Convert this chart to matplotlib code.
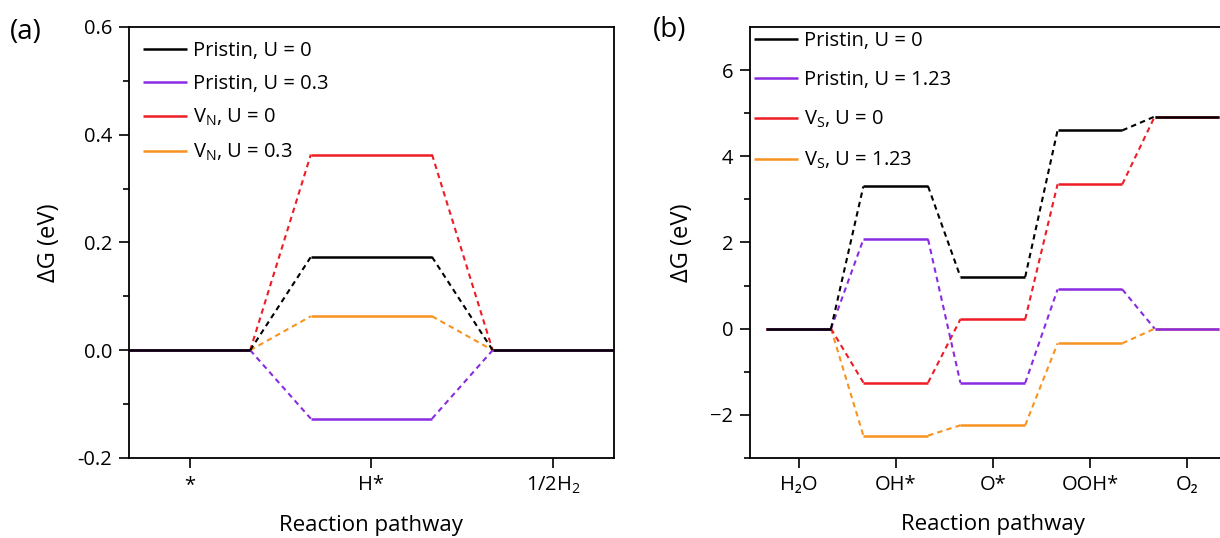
import matplotlib.pyplot as plt
import numpy as np

plt.rcParams['font.family'] = ['Open Sans', 'DejaVu Sans']
plt.rcParams['mathtext.fontset'] = 'custom'
plt.rcParams['mathtext.rm'] = 'Open Sans'
plt.rcParams['mathtext.it'] = 'Open Sans'
plt.rcParams['mathtext.default'] = 'regular'

# ---- data, panel (a): HER ----
her_steps = ['*', 'H*', '1/2H$_2$']
her_pristin_u0 = [0, 0.173, 0]
her_pristin_u03 = [0, -0.127, 0]
her_vn_u0 = [0, 0.363, 0]
her_vn_u03 = [0, 0.063, 0]

# ---- data, panel (b): OER ----
oer_steps = ['H\u2082O', 'OH*', 'O*', 'OOH*', 'O\u2082']
oer_pristin_u0 = [0, 3.30, 1.20, 4.60, 4.92]
oer_pristin_u123 = [0, 2.07, -1.26, 0.91, 0]
oer_vs_u0 = [0, -1.25, 0.22, 3.35, 4.92]
oer_vs_u123 = [0, -2.48, -2.24, -0.34, 0]

BLACK = 'black'
PURPLE = '#8a2be2'
RED = '#ee1c25'
ORANGE = '#f7931e'


def draw_path(ax, vals, color, label):
    # solid level for each step, dashed line joining neighbours
    h = 1 / 3
    for i, v in enumerate(vals):
        x = i + 1
        ax.plot([x - h, x + h], [v, v], color=color, lw=1.8, solid_capstyle='butt',
                label=label if i == 0 else None)
        if i < len(vals) - 1:
            ax.plot([x + h, x + 1 - h], [v, vals[i + 1]], color=color, lw=1.5,
                    ls=(0, (2.6, 2.0)))


def style(ax):
    ax.tick_params(axis='both', which='major', direction='out', length=7, width=1.2,
                   labelsize=14.5, top=False, right=False, pad=5)
    ax.tick_params(axis='y', which='minor', direction='out', length=4, width=1.2, right=False)
    for s in ax.spines.values():
        s.set_linewidth(1.3)
    ax.set_xlabel('Reaction pathway', fontsize=16, labelpad=14)
    ax.set_ylabel('\u0394G (eV)', fontsize=17, labelpad=12)


fig = plt.figure(figsize=(12.2, 5.38), dpi=100)

# (a)
ax1 = fig.add_axes([0.1057, 0.1487, 0.3975, 0.8013])
draw_path(ax1, her_vn_u03, ORANGE, 'V$_N$, U = 0.3')
draw_path(ax1, her_vn_u0, RED, 'V$_N$, U = 0')
draw_path(ax1, her_pristin_u03, PURPLE, 'Pristin, U = 0.3')
draw_path(ax1, her_pristin_u0, BLACK, 'Pristin, U = 0')
ax1.set_xlim(1 - 1 / 3, 3 + 1 / 3)
ax1.set_ylim(-0.2, 0.6)
ax1.set_xticks([1, 2, 3])
ax1.set_xticklabels(her_steps)
ax1.set_yticks([-0.2, 0.0, 0.2, 0.4, 0.6])
ax1.set_yticklabels(['-0.2', '0.0', '0.2', '0.4', '0.6'])
ax1.set_yticks(np.arange(-0.1, 0.6, 0.2), minor=True)
style(ax1)
h, l = ax1.get_legend_handles_labels()
ax1.legend(h[::-1], l[::-1], loc='upper left', frameon=False, fontsize=14.5,
           handlelength=2.2, handletextpad=0.3, labelspacing=0.65,
           borderaxespad=0.3)

# (b)
ax2 = fig.add_axes([0.6148, 0.1487, 0.398, 0.8013])
draw_path(ax2, oer_vs_u123, ORANGE, 'V$_S$, U = 1.23')
draw_path(ax2, oer_vs_u0, RED, 'V$_S$, U = 0')
draw_path(ax2, oer_pristin_u123, PURPLE, 'Pristin, U = 1.23')
draw_path(ax2, oer_pristin_u0, BLACK, 'Pristin, U = 0')
ax2.set_xlim(0.5, 5.5)
ax2.set_ylim(-3, 7)
ax2.set_xticks([1, 2, 3, 4, 5])
ax2.set_xticklabels(oer_steps)
ax2.set_yticks([-2, 0, 2, 4, 6])
ax2.set_yticks([-3, -1, 1, 3, 5], minor=True)
style(ax2)
h, l = ax2.get_legend_handles_labels()
ax2.legend(h[::-1], l[::-1], loc='upper left', frameon=False, fontsize=14.5,
           handlelength=2.2, handletextpad=0.3, labelspacing=0.95,
           borderaxespad=-0.2)

fig.text(0.008, 0.94, '(a)', fontsize=20, va='center')
fig.text(0.535, 0.945, '(b)', fontsize=20, va='center')

fig.savefig('out.png', dpi=100)
